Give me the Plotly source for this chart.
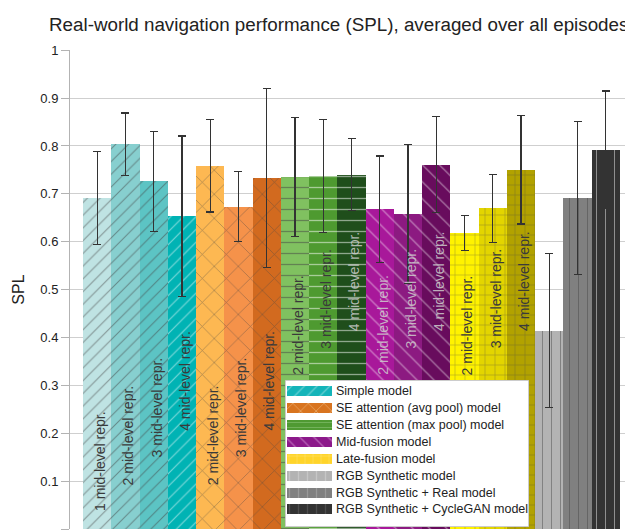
import plotly.graph_objects as go

# ---------------- data ----------------
group_names = [
    "Simple model",
    "SE attention (avg pool) model",
    "SE attention (max pool) model",
    "Mid-fusion model",
    "Late-fusion model",
    "RGB Synthetic model",
    "RGB Synthetic + Real model",
    "RGB Synthetic + CycleGAN model",
]
bar_group = [0, 0, 0, 0, 1, 1, 1, 2, 2, 2, 3, 3, 3, 4, 4, 4, 5, 6, 7]
bar_labels = [
    "1 mid-level repr.", "2 mid-level repr.", "3 mid-level repr.", "4 mid-level repr.",
    "2 mid-level repr.", "3 mid-level repr.", "4 mid-level repr.",
    "2 mid-level repr.", "3 mid-level repr.", "4 mid-level repr.",
    "2 mid-level repr.", "3 mid-level repr.", "4 mid-level repr.",
    "2 mid-level repr.", "3 mid-level repr.", "4 mid-level repr.",
    "", "", "",
]
spl = [0.692, 0.804, 0.726, 0.653,
       0.759, 0.673, 0.733,
       0.735, 0.738, 0.740,
       0.668, 0.658, 0.761,
       0.618, 0.670, 0.750,
       0.414, 0.692, 0.792]
spl_err = [0.097, 0.065, 0.104, 0.168,
           0.097, 0.073, 0.187,
           0.124, 0.118, 0.075,
           0.111, 0.145, 0.100,
           0.037, 0.071, 0.113,
           0.161, 0.160, 0.123]
y_ticks = [0, 0.1, 0.2, 0.3, 0.4, 0.5, 0.6, 0.7, 0.8, 0.9, 1]
y_tick_text = ["0", "0.1", "0.2", "0.3", "0.4", "0.5", "0.6", "0.7", "0.8", "0.9", "1"]

# ---------------- styles ----------------
bar_colors = ["#bfe3e3", "#87cfcf", "#5cc4c4", "#00b3b4",
              "#fdb852", "#f5924a", "#d26a1f",
              "#80c160", "#4e9a30", "#1f4e1b",
              "#a8189a", "#8c1a81", "#680c5d",
              "#fff200", "#e3d500", "#b2a200",
              "#b3b3b3", "#808080", "#333333"]
legend_colors = ["#14b4b9", "#d8741f", "#4f9a32", "#8c198a",
                 "#ffd42a", "#b3b3b3", "#808080", "#333333"]
pattern_shape = ["/", "x", "-", "\\", "+", "|", "|", "|"]
pattern_fg = ["rgba(255,255,255,0.55)", "rgba(255,232,140,0.8)", "rgba(170,235,150,0.7)",
              "rgba(255,190,250,0.55)", "rgba(190,160,0,0.55)", "rgba(255,255,255,0.35)",
              "rgba(255,255,255,0.25)", "rgba(255,255,255,0.15)"]
legend_fg = ["rgba(255,255,255,0.7)", "rgba(255,240,200,0.8)", "rgba(200,240,190,0.8)",
             "rgba(255,220,255,0.7)", "rgba(255,245,190,0.8)", "rgba(255,255,255,0.5)",
             "rgba(255,255,255,0.4)", "rgba(255,255,255,0.25)"]
pattern_size = [9, 17, 11, 12, 10, 9, 9, 9]
legend_pattern_size = [9, 11, 5, 10, 8, 9, 9, 9]
pattern_solid = [0.12, 0.08, 0.12, 0.1, 0.1, 0.1, 0.1, 0.1]
label_y = [0.142, 0.196, 0.255, 0.309,
           0.196, 0.255, 0.309,
           0.426, 0.481, 0.518,
           0.426, 0.481, 0.518,
           0.426, 0.481, 0.518]
label_light = {9, 10, 11, 12}

FONT = "Liberation Sans, Arial, sans-serif"

# page body adds an 8px margin; figure is sized to fit the window
OFF = 8
W, H = 633 - OFF, 530 - OFF
PL, PT, PB = 70 - OFF, 50 - OFF, 1          # plot area: screen x 70..633, y 50..529
PW, PH = W - PL, H - PT - PB

def px_x(sx):   # screen x -> paper x
    return (sx - OFF - PL) / PW

def px_y(sy):   # screen y -> paper y
    return (H - PB - (sy - OFF)) / PH

fig = go.Figure()

# actual bars, one trace per group
for g in range(len(group_names)):
    idx = [i for i, bg in enumerate(bar_group) if bg == g]
    fig.add_trace(go.Bar(
        x=idx,
        y=[spl[i] for i in idx],
        width=1.0,
        marker=dict(
            color=[bar_colors[i] for i in idx],
            line=dict(width=0),
            pattern=dict(shape=pattern_shape[g], fillmode="overlay",
                         fgcolor=pattern_fg[g], size=pattern_size[g],
                         solidity=pattern_solid[g]),
        ),
        error_y=dict(type="data", array=[spl_err[i] for i in idx],
                     color="#333333", thickness=1.2, width=4),
        showlegend=False,
        hoverinfo="y",
    ))

# in-bar labels
for i, lab in enumerate(bar_labels):
    if not lab:
        continue
    fig.add_annotation(
        x=i + 0.1, y=label_y[i], xref="x", yref="y", text=lab, showarrow=False,
        textangle=-90,
        font=dict(family=FONT, size=14,
                  color="rgba(205,205,205,0.85)" if i in label_light else "#3a3a3a"),
    )

# ---------------- legend box (inset axes in pixel units) ----------------
LX0, LX1, LY0, LY1 = 285, 529, 380, 527
LW, LH = LX1 - LX0, LY1 - LY0
row_y = [10.8 + 16.95 * k for k in range(len(group_names))]

# white legend background (drawn first, below swatches)
fig.add_trace(go.Bar(
    orientation="h", y=[LH / 2], x=[LW - 1], base=[0.5], width=LH - 1,
    marker=dict(color="white", line=dict(color="#cccccc", width=1)),
    xaxis="x2", yaxis="y2", hoverinfo="skip", showlegend=False,
))
for g, name in enumerate(group_names):
    fig.add_trace(go.Bar(
        orientation="h", y=[row_y[g]], x=[45.6], base=[1.7], width=10,
        marker=dict(color=legend_colors[g], line=dict(width=0),
                    pattern=dict(shape=pattern_shape[g], fillmode="overlay",
                                 fgcolor=legend_fg[g], size=legend_pattern_size[g],
                                 solidity=0.14)),
        xaxis="x2", yaxis="y2", hoverinfo="skip", showlegend=False, name=name,
    ))
    fig.add_annotation(
        x=49, y=row_y[g], xref="x2", yref="y2", text=name, showarrow=False,
        xanchor="left", yanchor="middle",
        font=dict(family=FONT, size=12.5, color="#222222"),
    )

fig.update_layout(
    width=W, height=H,
    margin=dict(l=PL, r=0, t=PT, b=PB, autoexpand=False),
    paper_bgcolor="white", plot_bgcolor="rgba(0,0,0,0)",
    barmode="overlay", bargap=0,
    font=dict(family=FONT, size=13, color="#222222"),
    title=dict(text="Real-world navigation performance (SPL), averaged over all episodes",
               x=(49 - OFF) / W, xanchor="left", xref="container",
               y=1 - (24 - OFF) / H, yanchor="middle",
               font=dict(family=FONT, size=18.8, color="#222222")),
    showlegend=False,
    xaxis=dict(range=[-0.96, 18.96], showgrid=False, zeroline=False,
               showticklabels=False, ticks="", showline=False, fixedrange=True),
    yaxis=dict(range=[0, 1.0005], tickvals=y_ticks, ticktext=y_tick_text,
               showgrid=True, gridcolor="#cfcfcf", gridwidth=1,
               zeroline=False, showline=True, linecolor="#b3b3b3", linewidth=1,
               ticks="outside", ticklen=8, tickcolor="#b3b3b3", automargin=False,
               tickfont=dict(family=FONT, size=13, color="#222222"),
               title=dict(text="SPL", font=dict(family=FONT, size=16, color="#222222"),
                          standoff=11)),
    xaxis2=dict(domain=[px_x(LX0), px_x(LX1)], range=[0, LW], visible=False,
                anchor="y2", fixedrange=True),
    yaxis2=dict(domain=[px_y(LY1), px_y(LY0)], range=[LH, 0], visible=False,
                anchor="x2", fixedrange=True),
)

fig.write_html("out.html")
